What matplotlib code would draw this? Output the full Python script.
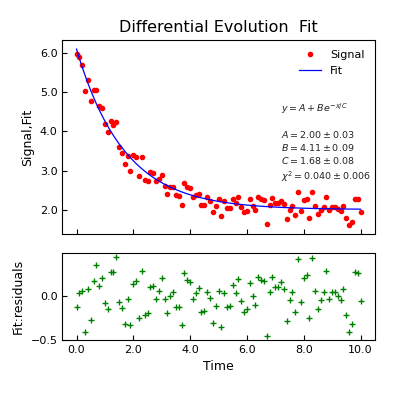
import numpy as np
import matplotlib
matplotlib.use("Agg")
import matplotlib.pyplot as plt
from matplotlib.ticker import MultipleLocator, FuncFormatter

# time grid: 0.0 .. 10.0 in steps of 0.1
time = np.linspace(0, 10, 101)

signal = [5.98, 5.90, 5.71, 5.03, 5.32, 4.77, 5.05, 5.07, 4.66, 4.61,
          4.19, 3.99, 4.28, 4.17, 4.24, 3.61, 3.45, 3.17, 3.38, 3.00,
          3.39, 3.35, 2.86, 3.34, 2.77, 2.73, 2.97, 2.93, 2.74, 2.79,
          2.89, 2.61, 2.41, 2.58, 2.59, 2.38, 2.35, 2.12, 2.69, 2.58,
          2.54, 2.32, 2.37, 2.41, 2.11, 2.11, 2.31, 2.23, 1.93, 2.10,
          2.27, 1.84, 2.22, 2.05, 2.05, 2.28, 2.18, 2.33, 2.07, 1.93,
          1.97, 2.26, 2.10, 2.00, 2.31, 2.27, 2.25, 1.62, 2.12, 2.29,
          2.16, 2.16, 2.22, 2.13, 1.76, 2.00, 2.09, 1.86, 2.46, 1.97,
          2.25, 2.27, 1.78, 2.46, 2.09, 1.88, 1.98, 2.06, 2.31, 1.99,
          2.07, 2.06, 2.02, 1.97, 2.10, 1.79, 1.60, 1.69, 2.28, 2.27,
          1.95]

fit = [6.110, 5.872, 5.649, 5.438, 5.239, 5.052, 4.876, 4.709, 4.553, 4.405,
       4.266, 4.135, 4.012, 3.896, 3.786, 3.683, 3.586, 3.494, 3.408, 3.326,
       3.250, 3.177, 3.109, 3.045, 2.985, 2.928, 2.874, 2.824, 2.776, 2.731,
       2.689, 2.649, 2.612, 2.576, 2.543, 2.512, 2.482, 2.454, 2.428, 2.403,
       2.380, 2.358, 2.337, 2.318, 2.299, 2.282, 2.266, 2.251, 2.236, 2.222,
       2.210, 2.197, 2.186, 2.175, 2.165, 2.156, 2.147, 2.138, 2.130, 2.123,
       2.116, 2.109, 2.103, 2.097, 2.091, 2.086, 2.081, 2.076, 2.072, 2.068,
       2.064, 2.060, 2.057, 2.053, 2.050, 2.047, 2.045, 2.042, 2.040, 2.037,
       2.035, 2.033, 2.031, 2.029, 2.028, 2.026, 2.025, 2.023, 2.022, 2.021,
       2.019, 2.018, 2.017, 2.016, 2.015, 2.014, 2.013, 2.013, 2.012, 2.011,
       2.011]

residuals = [-0.13, 0.03, 0.06, -0.41, 0.08, -0.28, 0.17, 0.36, 0.11, 0.20,
             -0.08, -0.15, 0.27, 0.27, 0.45, -0.07, -0.14, -0.32, -0.03, -0.33,
             0.14, 0.17, -0.25, 0.29, -0.22, -0.20, 0.10, 0.11, -0.04, 0.06,
             0.20, -0.04, -0.20, 0.00, 0.05, -0.13, -0.13, -0.33, 0.26, 0.18,
             0.16, -0.04, 0.03, 0.09, -0.19, -0.17, 0.04, -0.02, -0.31, -0.12,
             0.06, -0.36, 0.03, -0.13, -0.12, 0.12, 0.03, 0.19, -0.06, -0.19,
             -0.15, 0.15, 0.00, -0.10, 0.22, 0.18, 0.17, -0.46, 0.05, 0.22,
             0.10, 0.10, 0.16, 0.08, -0.29, -0.05, 0.045, -0.18, 0.42, -0.07,
             0.21, 0.24, -0.25, 0.43, 0.06, -0.15, -0.05, 0.04, 0.29, -0.03,
             0.05, 0.04, 0.00, -0.05, 0.08, -0.22, -0.41, -0.32, 0.27, 0.26,
             -0.06]

fit_text = ("$y = A + Be^{-x/C}$\n\n"
            "$A = 2.00 \\pm 0.03$\n"
            "$B = 4.11 \\pm 0.09$\n"
            "$C = 1.68 \\pm 0.08$\n"
            "$\\chi^2 = 0.040 \\pm 0.006$")

# one decimal, with a real minus sign
fmt = FuncFormatter(lambda v, p: f"{v:.1f}".replace("-", "\u2212"))

fig = plt.figure(figsize=(4.16, 4.0), dpi=100)
ax1 = fig.add_axes([0.1498, 0.415, 0.751, 0.4843])
ax2 = fig.add_axes([0.1498, 0.15, 0.751, 0.2183])

ax1.plot(time, signal, 'o', color='red', ms=3, label='Signal')
ax1.plot(time, fit, '-', color='blue', lw=0.9, label='Fit')
ax1.set_title('Differential Evolution  Fit', fontsize=11.5)
ax1.set_ylabel('Signal,Fit', fontsize=9)
ax1.legend(loc='upper right', frameon=False, fontsize=8, numpoints=1)
ax1.text(0.70, 0.685, fit_text, transform=ax1.transAxes, fontsize=6.8,
         va='top', ha='left', color='#222222', linespacing=1.25)
ax1.set_xlim(-0.5, 10.5)
ax1.xaxis.set_major_locator(MultipleLocator(2))
ax1.yaxis.set_major_locator(MultipleLocator(1))
ax1.yaxis.set_major_formatter(fmt)
ax1.tick_params(direction='in', labelsize=8, labelbottom=False)

ax2.plot(time, residuals, '+', color='green', ms=5, mew=1)
ax2.set_xlim(-0.5, 10.5)
ax2.set_ylabel('Fit:residuals', fontsize=9)
ax2.set_xlabel('Time', fontsize=9)
ax2.xaxis.set_major_locator(MultipleLocator(2))
ax2.xaxis.set_major_formatter(fmt)
ax2.yaxis.set_major_locator(MultipleLocator(0.5))
ax2.yaxis.set_major_formatter(fmt)
ax2.tick_params(direction='in', labelsize=8)

fig.savefig('out.png', dpi=100)
